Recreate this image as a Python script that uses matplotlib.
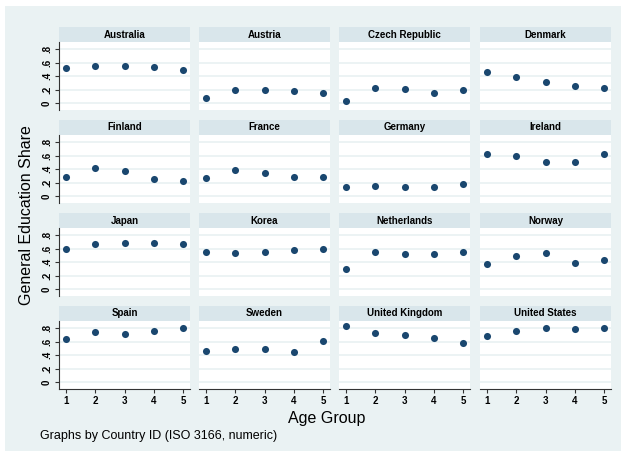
import numpy as np
import matplotlib
matplotlib.use("Agg")
import matplotlib.pyplot as plt

plt.rcParams['font.family'] = ['Liberation Sans', 'DejaVu Sans']

# data
countries = ["Australia", "Austria", "Czech Republic", "Denmark",
             "Finland", "France", "Germany", "Ireland",
             "Japan", "Korea", "Netherlands", "Norway",
             "Spain", "Sweden", "United Kingdom", "United States"]
age_groups = [1, 2, 3, 4, 5]
australia = [0.52, 0.56, 0.56, 0.54, 0.49]
austria = [0.08, 0.20, 0.19, 0.18, 0.15]
czech = [0.04, 0.22, 0.21, 0.15, 0.20]
denmark = [0.46, 0.39, 0.32, 0.25, 0.22]
finland = [0.29, 0.42, 0.37, 0.26, 0.22]
france = [0.27, 0.39, 0.34, 0.29, 0.29]
germany = [0.14, 0.15, 0.14, 0.14, 0.18]
ireland = [0.63, 0.60, 0.51, 0.51, 0.63]
japan = [0.60, 0.67, 0.68, 0.68, 0.67]
korea = [0.56, 0.54, 0.56, 0.59, 0.60]
netherlands = [0.30, 0.56, 0.53, 0.53, 0.55]
norway = [0.38, 0.49, 0.54, 0.39, 0.43]
spain = [0.64, 0.74, 0.72, 0.76, 0.80]
sweden = [0.47, 0.50, 0.49, 0.45, 0.61]
uk = [0.83, 0.73, 0.70, 0.66, 0.59]
us = [0.68, 0.76, 0.81, 0.79, 0.80]
shares = [australia, austria, czech, denmark, finland, france, germany, ireland,
          japan, korea, netherlands, norway, spain, sweden, uk, us]
yticks = [0, 0.2, 0.4, 0.6, 0.8]
yticklabels = ["0", ".2", ".4", ".6", ".8"]

W, H = 624, 458
bg = "#eaf2f3"
strip = "#d9e6eb"
navy = "#1a476f"

fig = plt.figure(figsize=(W / 100, H / 100), dpi=100)
fig.patch.set_facecolor("white")

def box(x, y, w, h):
    # pixel box (top-left origin) -> figure fraction
    return [x / W, 1 - (y + h) / H, w / W, h / H]

outer = fig.add_axes(box(5, 6, 616, 445))
outer.set_facecolor(bg)
outer.set_xticks([]); outer.set_yticks([])
for s in outer.spines.values():
    s.set_visible(False)

lefts = [59, 199, 339, 480]
tops = [42, 135, 228, 321]
pw, ph, sh = 131, 68, 15

for i, (name, vals) in enumerate(zip(countries, shares)):
    r, c = divmod(i, 4)
    # title strip
    st = fig.add_axes(box(lefts[c], tops[r] - sh, pw, sh))
    st.set_facecolor(strip)
    st.set_xticks([]); st.set_yticks([])
    for s in st.spines.values():
        s.set_visible(False)
    st.text(0.5, 0.5, name, ha="center", va="center", fontsize=7,
            fontweight="bold", transform=st.transAxes)

    ax = fig.add_axes(box(lefts[c], tops[r], pw, ph))
    ax.set_facecolor("white")
    ax.set_xlim(0.76, 5.24)
    ax.set_ylim(-0.1, 0.91)
    for y in yticks:
        ax.axhline(y, color=bg, lw=1.3, zorder=1)
    ax.scatter(age_groups, vals, s=26, color=navy, zorder=3, linewidths=0)
    for s in ax.spines.values():
        s.set_visible(False)
    ax.set_yticks(yticks)
    ax.set_xticks(age_groups)
    if c == 0:
        ax.spines["left"].set_visible(True)
        ax.spines["left"].set_color("#333333")
        ax.spines["left"].set_linewidth(0.8)
        ax.set_yticklabels(yticklabels, rotation=90, va="center", fontsize=7, fontweight="bold")
        ax.tick_params(axis="y", length=3, width=0.8, color="#333333", pad=2)
    else:
        ax.tick_params(axis="y", left=False, labelleft=False)
    if r == 3:
        ax.spines["bottom"].set_visible(True)
        ax.spines["bottom"].set_color("#333333")
        ax.spines["bottom"].set_linewidth(0.8)
        ax.set_xticklabels([str(a) for a in age_groups], fontsize=7, fontweight="bold")
        ax.tick_params(axis="x", length=3, width=0.8, color="#333333", pad=2)
    else:
        ax.tick_params(axis="x", bottom=False, labelbottom=False)

fig.text(327 / W, 1 - 418 / H, "Age Group", ha="center", va="center", fontsize=11.5)
fig.text(27 / W, 1 - 215 / H, "General Education Share", ha="center", va="center",
         rotation=90, fontsize=11.5)
fig.text(40 / W, 1 - 436 / H, "Graphs by Country ID (ISO 3166, numeric)",
         ha="left", va="center", fontsize=9)

fig.savefig("out.png", dpi=100, facecolor="white")
